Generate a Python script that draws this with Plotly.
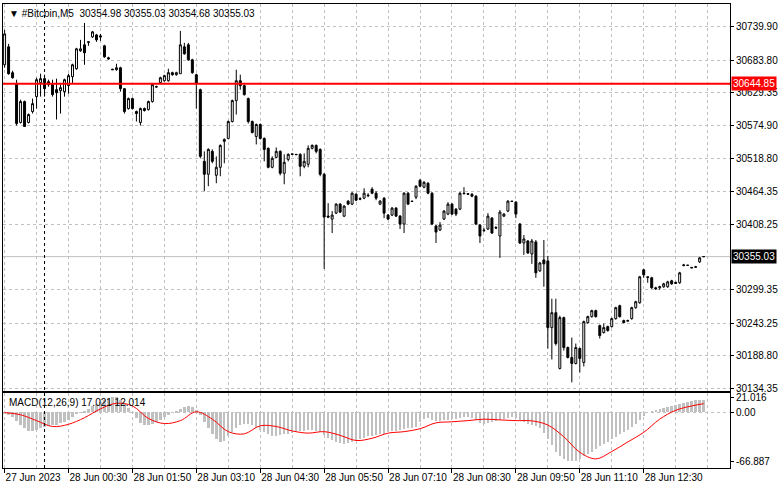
import pandas as pd
import plotly.graph_objects as go

# M5 bars, 27 Jun 2023 23:10 .. 28 Jun 2023 13:45
times = pd.date_range("2023-06-27 23:10", periods=176, freq="5min")

open_ = [
    30676.5, 30706.5, 30663.2, 30644.8, 30579.8, 30614.8, 30579.8, 30598.1,
    30623.1, 30646.5, 30653.2, 30648.1, 30643.1, 30634.8, 30633.1, 30631.5,
    30641.5, 30656.5, 30669.8, 30699.9, 30709.9, 30714.0, 30723.2, 30726.5,
    30724.9, 30708.2, 30688.2, 30669.0, 30668.2, 30671.5, 30636.5, 30603.1,
    30619.8, 30598.1, 30579.8, 30603.1, 30601.4, 30614.8, 30639.8, 30646.5,
    30649.8, 30649.8, 30663.2, 30659.8, 30661.5, 30706.5, 30709.9, 30684.8,
    30659.8, 30634.8, 30514.7, 30493.0, 30531.4, 30491.3, 30504.7, 30548.1,
    30553.1, 30581.4, 30616.5, 30649.8, 30641.5, 30619.8, 30581.4, 30556.4,
    30576.4, 30553.1, 30536.4, 30504.7, 30521.4, 30531.4, 30494.7, 30518.0,
    30527.2, 30526.4, 30526.4, 30506.3, 30509.7, 30536.4, 30541.4, 30534.7,
    30493.0, 30422.9, 30417.9, 30427.9, 30443.0, 30422.9, 30448.0, 30443.0,
    30459.6, 30452.1, 30453.0, 30458.0, 30468.0, 30461.3, 30443.0, 30453.0,
    30424.6, 30424.6, 30436.3, 30422.9, 30409.6, 30461.3, 30448.0, 30454.6,
    30483.0, 30471.3, 30478.0, 30461.3, 30406.3, 30399.6, 30417.9, 30426.3,
    30443.0, 30434.6, 30434.6, 30461.3, 30460.5, 30459.6, 30456.3, 30407.9,
    30399.6, 30401.3, 30419.6, 30403.8, 30389.6, 30422.9, 30431.3, 30448.0,
    30446.3, 30409.6, 30377.9, 30381.2, 30359.5, 30379.6, 30331.2, 30349.5,
    30347.9, 30236.1, 30261.1, 30167.7, 30252.8, 30202.7, 30186.1, 30176.0,
    30201.1, 30177.7, 30244.4, 30254.5, 30264.5, 30239.4, 30227.8, 30237.8,
    30237.8, 30251.1, 30272.8, 30247.8, 30247.8, 30251.1, 30269.5, 30277.8,
    30332.9, 30321.2, 30319.5, 30302.8, 30302.8, 30304.5, 30304.5, 30314.5,
    30312.0, 30311.2, 30341.2, 30340.7, 30337.0, 30337.9, 30346.2, 30354.98,
]
high = [
    30734.9, 30711.5, 30666.5, 30651.5, 30618.1, 30616.5, 30594.8, 30619.8,
    30654.8, 30661.5, 30659.8, 30651.5, 30651.5, 30653.2, 30643.1, 30653.2,
    30661.5, 30678.2, 30704.9, 30718.2, 30746.6, 30714.9, 30733.2, 30728.2,
    30728.2, 30709.9, 30689.9, 30669.8, 30678.2, 30673.2, 30636.5, 30621.5,
    30621.5, 30599.8, 30604.8, 30604.8, 30616.5, 30644.8, 30641.5, 30656.5,
    30659.8, 30669.8, 30664.8, 30664.8, 30733.2, 30713.2, 30713.2, 30686.5,
    30661.5, 30636.5, 30531.4, 30536.4, 30534.7, 30523.0, 30543.0, 30553.1,
    30583.1, 30618.1, 30668.2, 30659.8, 30643.1, 30621.5, 30583.1, 30578.1,
    30578.1, 30554.7, 30538.0, 30523.0, 30538.0, 30533.0, 30526.4, 30528.0,
    30527.2, 30526.4, 30528.0, 30528.0, 30541.4, 30543.0, 30543.0, 30536.4,
    30494.7, 30444.6, 30431.3, 30444.6, 30444.6, 30441.3, 30449.6, 30463.0,
    30461.3, 30454.6, 30469.6, 30461.3, 30471.3, 30464.6, 30449.6, 30454.6,
    30426.3, 30438.0, 30438.0, 30424.6, 30463.0, 30463.0, 30448.0, 30474.6,
    30484.7, 30481.3, 30479.7, 30463.0, 30407.9, 30412.9, 30433.0, 30446.3,
    30444.6, 30436.3, 30463.0, 30471.3, 30460.5, 30461.3, 30458.0, 30409.6,
    30402.9, 30427.9, 30421.3, 30406.3, 30433.0, 30427.9, 30449.6, 30448.0,
    30448.0, 30411.3, 30391.2, 30382.9, 30384.6, 30382.9, 30346.2, 30382.9,
    30356.2, 30284.5, 30284.5, 30256.1, 30254.5, 30204.4, 30219.4, 30209.4,
    30202.7, 30247.8, 30256.1, 30266.1, 30266.1, 30241.1, 30242.8, 30239.4,
    30252.8, 30271.1, 30274.5, 30249.4, 30249.4, 30271.1, 30281.1, 30322.8,
    30334.5, 30321.2, 30321.2, 30304.5, 30306.2, 30311.2, 30314.5, 30316.2,
    30312.8, 30329.5, 30342.9, 30340.7, 30337.0, 30339.5, 30354.5, 30355.03,
]
low = [
    30671.5, 30659.8, 30653.2, 30574.7, 30578.1, 30573.1, 30578.1, 30594.8,
    30603.1, 30623.1, 30623.1, 30639.8, 30623.1, 30584.8, 30594.8, 30623.1,
    30628.1, 30644.8, 30668.2, 30698.2, 30676.5, 30708.2, 30721.5, 30714.9,
    30716.5, 30688.2, 30684.8, 30668.2, 30666.5, 30631.5, 30594.8, 30601.4,
    30601.4, 30581.4, 30574.7, 30598.1, 30599.8, 30613.1, 30638.1, 30644.8,
    30648.1, 30648.1, 30658.2, 30658.2, 30661.5, 30693.2, 30683.2, 30661.5,
    30603.1, 30519.7, 30464.6, 30473.0, 30511.4, 30478.0, 30489.7, 30511.4,
    30551.4, 30579.8, 30593.1, 30634.8, 30624.8, 30578.1, 30561.4, 30543.0,
    30551.4, 30514.7, 30503.0, 30503.0, 30519.7, 30491.3, 30476.3, 30514.7,
    30526.4, 30525.5, 30489.7, 30503.0, 30504.7, 30534.7, 30528.0, 30489.7,
    30334.5, 30419.6, 30394.6, 30426.3, 30427.9, 30421.3, 30441.3, 30441.3,
    30448.0, 30449.6, 30451.3, 30454.6, 30459.6, 30449.6, 30441.3, 30419.6,
    30416.3, 30422.9, 30421.3, 30401.3, 30394.6, 30441.3, 30447.1, 30451.3,
    30471.3, 30469.6, 30459.6, 30407.9, 30377.9, 30397.9, 30416.3, 30424.6,
    30424.6, 30422.9, 30433.0, 30459.6, 30459.6, 30454.6, 30407.9, 30377.9,
    30396.2, 30399.6, 30392.9, 30401.3, 30352.9, 30421.3, 30429.6, 30447.1,
    30419.6, 30376.2, 30357.9, 30359.5, 30342.9, 30319.5, 30329.5, 30304.5,
    30201.1, 30182.7, 30206.1, 30166.0, 30197.7, 30184.4, 30144.4, 30174.4,
    30161.0, 30171.0, 30242.8, 30252.8, 30252.8, 30217.8, 30226.1, 30229.4,
    30236.1, 30249.4, 30252.8, 30243.6, 30246.1, 30249.4, 30267.8, 30276.1,
    30319.5, 30311.2, 30301.2, 30299.5, 30299.5, 30302.8, 30302.8, 30307.8,
    30309.5, 30309.5, 30338.7, 30340.4, 30336.2, 30337.0, 30344.5, 30354.68,
]
close = [
    30728.2, 30661.5, 30654.8, 30578.1, 30614.8, 30573.1, 30593.1, 30611.4,
    30651.5, 30653.2, 30636.5, 30643.1, 30626.5, 30629.8, 30638.1, 30651.5,
    30658.2, 30676.5, 30703.2, 30703.2, 30696.5, 30714.9, 30731.6, 30718.2,
    30723.2, 30689.9, 30686.5, 30668.2, 30671.5, 30636.5, 30598.1, 30619.8,
    30603.1, 30594.8, 30603.1, 30599.8, 30614.8, 30643.1, 30639.3, 30654.8,
    30658.2, 30663.2, 30659.8, 30663.2, 30709.9, 30694.9, 30684.8, 30663.2,
    30644.8, 30523.0, 30493.0, 30534.7, 30514.7, 30504.7, 30541.4, 30551.4,
    30581.4, 30616.5, 30649.8, 30641.5, 30626.5, 30581.4, 30563.1, 30576.4,
    30553.1, 30534.7, 30504.7, 30519.7, 30531.4, 30494.7, 30513.0, 30526.4,
    30526.4, 30525.9, 30506.3, 30514.7, 30536.4, 30541.4, 30531.4, 30493.0,
    30421.3, 30421.3, 30424.6, 30443.0, 30429.6, 30439.6, 30443.0, 30461.3,
    30449.6, 30451.3, 30461.3, 30457.1, 30461.3, 30453.0, 30448.0, 30427.9,
    30417.9, 30436.3, 30422.9, 30409.6, 30461.3, 30443.0, 30447.5, 30473.0,
    30473.0, 30479.7, 30461.3, 30409.6, 30396.2, 30407.9, 30431.3, 30443.0,
    30426.3, 30426.3, 30461.3, 30460.5, 30459.6, 30456.3, 30409.6, 30389.6,
    30398.7, 30422.9, 30394.6, 30402.9, 30429.6, 30426.3, 30448.0, 30447.5,
    30426.3, 30377.9, 30384.6, 30361.2, 30381.2, 30327.9, 30344.5, 30342.9,
    30236.1, 30261.1, 30209.4, 30252.8, 30202.7, 30186.1, 30176.0, 30202.7,
    30184.4, 30246.1, 30254.5, 30264.5, 30254.5, 30222.8, 30236.1, 30231.1,
    30251.1, 30269.5, 30254.5, 30244.4, 30247.3, 30269.5, 30279.5, 30321.2,
    30324.5, 30320.3, 30302.8, 30301.2, 30304.5, 30309.5, 30312.8, 30309.5,
    30310.3, 30327.9, 30340.4, 30340.4, 30336.2, 30337.4, 30352.9, 30355.03,
]

# MACD(12,26,9): main line as histogram, signal as red line
macd_hist = [
    -2, -4, -7, -12, -17, -22, -25, -26, -24, -22, -20, -19, -18, -17, -15, -13,
    -10, -6, -3, -1, 1, 4, 8, 11, 14, 17, 19, 21.016, 20, 17, 12, 6,
    -1, -8, -14, -18, -18, -16, -13, -10, -7, -4, -1, 2, 5, 7, 8, 7,
    3, -4, -13, -22, -30, -36, -40, -39, -33, -27, -21, -17, -16, -16, -18, -21,
    -24, -27, -30, -32, -32, -31, -30, -29, -28, -27, -26, -25, -24, -24, -25, -27,
    -31, -35, -38, -40, -42, -43, -42, -41, -39, -37, -35, -33, -32, -31, -30, -29,
    -27, -26, -25, -24, -23, -22, -21, -20, -13, -9, -8, -10, -12, -12, -11, -10,
    -9, -9, -8, -7, -7, -8, -11, -14, -16, -15, -13, -12, -11, -9, -8, -7,
    -8, -10, -13, -16, -17, -19, -22, -28, -36, -45, -54, -60, -64, -66, -66.887, -66,
    -63, -60, -57, -54, -50, -46, -43, -40, -37, -34, -30, -27, -24, -20, -16, -11,
    -5, 0, 2, 3, 4, 6, 7, 8, 10, 11, 12, 14, 15, 16, 17, 17.021,
]
signal_bars = list(range(0, 176, 4)) + [175]
signal = [
    0, -3, -11, -19, -16, -7, 5, 12.6, 9, -8, -15, -11, 1, -9, -26, -29,
    -18, -19, -25, -28, -26, -31, -38, -35, -28, -26, -22, -14, -12.6, -11, -9, -10,
    -11, -11.3, -17, -33, -54, -63, -53, -40, -27, -9, 3, 9, 12.014,
]

price_ticks = [30739.90, 30683.80, 30629.35, 30574.90, 30518.80, 30464.35,
               30408.25, 30299.35, 30243.25, 30188.80, 30134.35]
macd_ticks = [21.016, 0.0, -66.887]
macd_tick_text = ["21.016", "0.00", "-66.887"]

label_bars = list(range(0, 176, 16))
label_text = ["27 Jun 2023", "28 Jun 00:30", "28 Jun 01:50", "28 Jun 03:10",
              "28 Jun 04:30", "28 Jun 05:50", "28 Jun 07:10", "28 Jun 08:30",
              "28 Jun 09:50", "28 Jun 11:10", "28 Jun 12:30"]

level_price = 30644.85
bid_price = 30355.03
day_start = pd.Timestamp("2023-06-28 00:00")
header = "▼ #Bitcoin,M5  30354.98 30355.03 30354.68 30355.03"
macd_title = "MACD(12,26,9) 17.021 12.014"

FONT = "Liberation Sans"
GRID = "#c0c0c0"
bar = pd.Timedelta(minutes=5)
x_range = [times[0] - bar * 0.4, times[0] + bar * 181.6]
label_times = [times[i] for i in label_bars]

fig = go.Figure()
fig.add_trace(go.Candlestick(
    x=times, open=open_, high=high, low=low, close=close,
    increasing=dict(line=dict(color="black", width=1), fillcolor="white"),
    decreasing=dict(line=dict(color="black", width=1), fillcolor="black"),
    whiskerwidth=0, xaxis="x", yaxis="y", showlegend=False))
fig.add_trace(go.Bar(
    x=times, y=macd_hist, marker=dict(color=GRID, line=dict(width=0)),
    width=0.6 * 300000, xaxis="x2", yaxis="y2", showlegend=False))
fig.add_trace(go.Scatter(
    x=[times[i] for i in signal_bars], y=signal, mode="lines",
    line=dict(color="red", width=1, shape="spline"),
    xaxis="x2", yaxis="y2", showlegend=False))

xcommon = dict(
    type="date", range=x_range, tickmode="array", tickvals=label_times,
    showgrid=True, gridcolor=GRID, griddash="3px,3px", gridwidth=1,
    minor=dict(tickmode="linear", tick0=str(times[0]), dtick=40 * 60 * 1000,
               showgrid=True, gridcolor=GRID, griddash="3px,3px", ticks=""),
    showline=True, mirror=True, linecolor="black", linewidth=1,
    zeroline=False)

fig.update_layout(
    width=781, height=489,
    margin=dict(l=2, r=51, t=2, b=21),
    paper_bgcolor="white", plot_bgcolor="white",
    font=dict(family=FONT, size=10, color="black"),
    showlegend=False, bargap=0,
    xaxis=dict(**xcommon, anchor="y", matches="x2", showticklabels=False,
               ticks="", rangeslider=dict(visible=False)),
    xaxis2=dict(**xcommon, anchor="y2", ticktext=label_text, ticks="outside",
                ticklen=4, tickcolor="black", ticklabelposition="outside right",
                tickangle=0,
                tickfont=dict(family=FONT, size=10, color="black")),
    yaxis=dict(domain=[0.1652, 1], anchor="x", side="right",
               range=[30129.3, 30778.3], tickmode="array",
               tickvals=price_ticks, ticktext=[f"{p:.2f}" for p in price_ticks],
               ticks="outside", ticklen=3, tickcolor="black",
               showgrid=True, gridcolor=GRID, griddash="3px,3px",
               showline=True, mirror=True, linecolor="black", zeroline=False,
               tickfont=dict(family=FONT, size=10, color="black")),
    yaxis2=dict(domain=[0, 0.1609], anchor="x2", side="right",
                range=[-75.4, 26.1], tickmode="array", tickvals=macd_ticks,
                ticktext=macd_tick_text, ticks="outside", ticklen=3,
                tickcolor="black", showgrid=False, zeroline=False,
                showline=True, mirror=True, linecolor="black",
                tickfont=dict(family=FONT, size=10, color="black")),
)

fig.add_shape(type="line", xref="x2 domain", x0=0, x1=1, yref="y2", y0=0, y1=0,
              line=dict(color=GRID, width=1, dash="3px,3px"), layer="below")
fig.add_shape(type="line", xref="x domain", x0=0, x1=1, yref="y",
              y0=bid_price, y1=bid_price, line=dict(color=GRID, width=1),
              layer="below")
fig.add_shape(type="line", xref="x domain", x0=0, x1=1, yref="y",
              y0=level_price, y1=level_price, line=dict(color="red", width=2))
fig.add_shape(type="line", xref="x", x0=day_start, x1=day_start,
              yref="paper", y0=0, y1=1,
              line=dict(color="black", width=1, dash="3px,3px"))

fig.add_annotation(text=header, xref="paper", yref="paper", x=0, y=1,
                   xanchor="left", yanchor="top", xshift=4, yshift=-2,
                   showarrow=False, font=dict(family=FONT, size=10))
fig.add_annotation(text=macd_title, xref="paper", yref="paper", x=0, y=0.1609,
                   xanchor="left", yanchor="top", xshift=4, yshift=-2,
                   showarrow=False, font=dict(family=FONT, size=10))
for price, bg in [(level_price, "red"), (bid_price, "black")]:
    fig.add_annotation(text=f"{price:.2f}", xref="paper", yref="y", x=1, y=price,
                       xanchor="left", yanchor="middle", xshift=1,
                       showarrow=False, bgcolor=bg, borderpad=1,
                       font=dict(family=FONT, size=10, color="white"))

# page body has a default margin; drop it so the chart sits at the window corner
fig.write_html("out.html", config={"displayModeBar": False},
               post_script="document.body.style.margin='0';"
                           "document.body.style.overflow='hidden';")
